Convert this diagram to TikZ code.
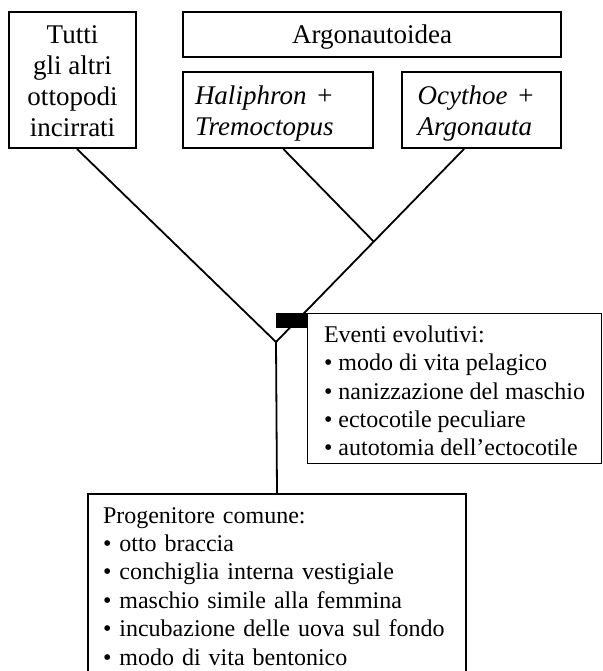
\documentclass[tikz,border=0pt]{standalone}
\usepackage{fontspec}
\setmainfont{Liberation Serif}
\usetikzlibrary{calc}
\begin{document}
\begin{tikzpicture}[x=1pt,y=-1pt,
  box/.style={draw, line width=2pt, inner sep=0pt, anchor=north west},
  big/.style={font=\fontsize{27}{31}\selectfont},
  bigit/.style={font=\fontsize{27}{31}\selectfont\itshape},
  small/.style={font=\fontsize{24}{28.4}\selectfont},
  branch/.style={line width=1.8pt}]
\useasboundingbox (0,0) rectangle (602,671);
\clip (0,0) rectangle (602,671);

\node[box,big,minimum width=127pt,minimum height=136pt,align=center,text height=114pt,text depth=0pt] (tutti) at (8,11)
  {Tutti\\gli altri\\ottopodi\\incirrati};
\node[box,big,minimum width=378pt,minimum height=45pt,text height=25pt,text depth=6pt] (argo) at (182,11)
  {Argonautoidea};
\node[box,bigit,minimum width=189.7pt,minimum height=76pt,text width=165.7pt,inner xsep=12pt,align=left,text depth=29pt] (hal) at (182,71)
  {Haliphron +\\Tremoctopus};
\node[box,bigit,minimum width=159pt,minimum height=76pt,text width=127.6pt,inner xsep=15.7pt,align=left,text depth=29pt] (ocy) at (401,71)
  {Ocythoe +\\Argonauta};
\node[box,small,minimum width=378pt,text width=348pt,inner xsep=15pt,inner ysep=13.3pt,align=left,text depth=185pt] (prog) at (87,493)
  {Progenitore comune:\\
   \textbullet\ otto braccia\\
   \textbullet\ conchiglia interna vestigiale\\
   \textbullet\ maschio simile alla femmina\\
   \textbullet\ incubazione delle uova sul fondo\\
   \textbullet\ modo di vita bentonico};

\coordinate (jn) at (276,342);
\coordinate (tuend) at ([xshift=4.5pt]tutti.south);
\coordinate (haend) at ([xshift=5.5pt]hal.south);
\coordinate (ocend) at ([xshift=-17.5pt]ocy.south);
\coordinate (hx) at ($(jn)!0.52!(ocend)$);
\draw[branch] (tuend) -- (jn) -- (prog.north);
\draw[branch] (jn) -- (ocend);
\draw[branch] (haend) -- (hx);

\node[fill=black,inner sep=0pt,minimum width=31pt,minimum height=15pt,anchor=north west] (evmark) at (276,313) {};
\node[draw,line width=1pt,small,anchor=north west,minimum width=294pt,inner xsep=0pt,inner ysep=7.7pt,align=left,text height=134.6pt,text depth=0pt] (events) at (307,313)
  {Eventi evolutivi:\\
   \textbullet\ modo di vita pelagico\\
   \textbullet\ nanizzazione del maschio\\
   \textbullet\ ectocotile peculiare\\
   \textbullet\ autotomia dell’ectocotile};
\end{tikzpicture}
\end{document}
